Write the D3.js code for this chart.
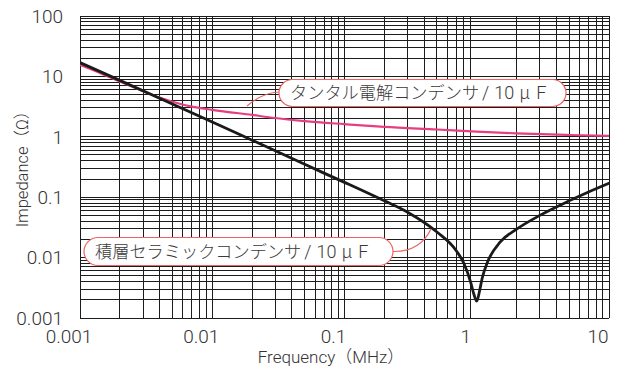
<!DOCTYPE html>
<html>
<head>
<meta charset="utf-8">
<script src="https://cdn.jsdelivr.net/npm/d3@7"></script>
<style>
  html, body { margin: 0; padding: 0; background: #fff; }
  svg { display: block; }
</style>
</head>
<body>
<div id="chart"></div>
<script>
// values (MHz, ohm)
const ceramicFreq = [0.001, 0.002, 0.004, 0.007, 0.01, 0.02, 0.05, 0.1, 0.2, 0.3, 0.5, 0.7, 0.8, 0.9, 0.95, 1.0, 1.05, 1.1, 1.2, 1.5, 2, 3, 5, 7, 10.5];
const ceramicZ    = [16.9, 8.6, 4.35, 2.5, 1.76, 0.88, 0.35, 0.176, 0.087, 0.0565, 0.0265, 0.013, 0.008, 0.0039, 0.0025, 0.0019, 0.0028, 0.0046, 0.0082, 0.018, 0.0295, 0.05, 0.087, 0.122, 0.178];

const tantalumFreq = [0.001, 0.0015, 0.002, 0.003, 0.004, 0.005, 0.007, 0.01, 0.02, 0.03, 0.05, 0.1, 0.2, 0.5, 1, 2, 5, 10.5];
const tantalumZ    = [15.5, 10.8, 8.2, 5.7, 4.45, 3.8, 3.15, 2.8, 2.3, 2.05, 1.82, 1.62, 1.46, 1.32, 1.22, 1.14, 1.07, 1.03];

const xTickValues = [0.001, 0.01, 0.1, 1, 10];
const xTickLabels = ['0.001', '0.01', '0.1', '1', '10'];
const yTickValues = [0.001, 0.01, 0.1, 1, 10, 100];
const yTickLabels = ['0.001', '0.01', '0.1', '1', '10', '100'];

const seriesNames = ['タンタル電解コンデンサ', '積層セラミックコンデンサ'];
const seriesUnit = ['/', '10', 'μ', 'F'];
const xTitle = 'Frequency（MHz）';
const yTitle = 'Impedance（Ω）';

const W = 618, H = 370;
const plot = { left: 80, right: 609, top: 16, bottom: 318 };

const svg = d3.select('#chart').append('svg')
  .attr('width', W).attr('height', H)
  .style('font-family', 'Roboto, "Noto Sans", sans-serif');

const x = d3.scaleLog().domain([0.001, 10]).range([plot.left, plot.right]);
const y = d3.scaleLog().domain([0.001, 100]).range([plot.bottom, plot.top]);

// log grid 1..9 per decade
const gridX = [], gridY = [];
for (let e = -3; e < 1; e++) for (let k = 1; k <= 9; k++) gridX.push(k * Math.pow(10, e));
gridX.push(10);
for (let e = -3; e < 2; e++) for (let k = 1; k <= 9; k++) gridY.push(k * Math.pow(10, e));
gridY.push(100);

// the 1 MHz line is not printed in the original
const gridXShown = gridX.filter(v => Math.abs(v - 1) > 1e-9);

const gGrid = svg.append('g')
  .attr('stroke', '#1c1c1c')
  .attr('stroke-width', 1)
  .attr('shape-rendering', 'crispEdges');

gGrid.selectAll('line.v').data(gridXShown).join('line')
  .attr('class', 'v')
  .attr('x1', d => x(d)).attr('x2', d => x(d))
  .attr('y1', plot.top).attr('y2', plot.bottom);

gGrid.selectAll('line.h').data(gridY).join('line')
  .attr('class', 'h')
  .attr('x1', plot.left).attr('x2', plot.right)
  .attr('y1', d => y(d)).attr('y2', d => y(d));

// tick labels
svg.append('g').selectAll('text').data(xTickValues).join('text')
  .attr('x', d => x(d) - 11)
  .attr('y', 343)
  .attr('text-anchor', 'middle')
  .attr('font-size', 19)
  .attr('font-weight', 300)
  .attr('fill', '#333')
  .text((d, i) => xTickLabels[i]);

svg.append('g').selectAll('text').data(yTickValues).join('text')
  .attr('x', 63)
  .attr('y', d => y(d))
  .attr('dy', '0.36em')
  .attr('text-anchor', 'end')
  .attr('font-size', 19)
  .attr('font-weight', 300)
  .attr('fill', '#333')
  .text((d, i) => yTickLabels[i]);

// axis titles
svg.append('text')
  .attr('x', 331).attr('y', 363)
  .attr('text-anchor', 'middle')
  .attr('font-size', 17)
  .attr('font-weight', 300)
  .attr('fill', '#333')
  .style('font-family', 'Roboto, "Noto Sans CJK JP", sans-serif')
  .text(xTitle);

svg.append('text')
  .attr('transform', 'translate(28,165) rotate(-90)')
  .attr('text-anchor', 'middle')
  .attr('font-size', 16.5)
  .attr('font-weight', 300)
  .attr('fill', '#333')
  .style('font-family', 'Roboto, "Noto Sans CJK JP", sans-serif')
  .text(yTitle);

// curves
const line = d3.line()
  .x(d => x(d[0]))
  .y(d => y(d[1]))
  .curve(d3.curveMonotoneX);

svg.append('clipPath').attr('id', 'plotClip')
  .append('rect')
  .attr('x', plot.left).attr('y', plot.top)
  .attr('width', plot.right - plot.left).attr('height', plot.bottom - plot.top);

const tantalum = tantalumFreq.map((f, i) => [f, tantalumZ[i]]);
const ceramic = ceramicFreq.map((f, i) => [f, ceramicZ[i]]);

const gCurves = svg.append('g').attr('clip-path', 'url(#plotClip)');

gCurves.append('path')
  .datum(tantalum)
  .attr('d', line)
  .attr('fill', 'none')
  .attr('stroke', '#e63e7e')
  .attr('stroke-width', 2.2);

gCurves.append('path')
  .datum(ceramic)
  .attr('d', line)
  .attr('fill', 'none')
  .attr('stroke', '#1a1a1a')
  .attr('stroke-width', 2.8)
  .attr('stroke-linejoin', 'round')
  .attr('stroke-linecap', 'round');

// callout bubbles
const bubbleStroke = '#ec6464';

function callout(box, leader, name) {
  const g = svg.append('g');
  g.append('path')
    .attr('d', leader)
    .attr('fill', 'none')
    .attr('stroke', bubbleStroke)
    .attr('stroke-width', 1.2);
  g.append('rect')
    .attr('x', box.x).attr('y', box.y)
    .attr('width', box.w).attr('height', box.h)
    .attr('rx', box.h / 2).attr('ry', box.h / 2)
    .attr('fill', '#fff')
    .attr('stroke', bubbleStroke)
    .attr('stroke-width', 1.2);
  const t = g.append('text')
    .attr('x', box.x + 11)
    .attr('y', box.y + box.h / 2)
    .attr('dy', '0.36em')
    .attr('font-size', 17.2)
    .attr('font-weight', 300)
    .attr('fill', '#3a3a3a')
    .style('font-family', '"Noto Sans CJK JP", sans-serif');
  t.append('tspan').text(name);
  // unit part is set wide in the original
  const gaps = [3, 5, 5, 6];
  seriesUnit.forEach((s, i) => {
    t.append('tspan').attr('dx', gaps[i])
      .style('font-family', s === 'μ' ? '"Noto Sans CJK JP"' : 'Roboto, sans-serif')
      .attr('font-size', 18)
      .text(s);
  });
}

callout({ x: 279, y: 79.5, w: 287, h: 27 },
  'M279,92 Q262,93 247,106', seriesNames[0]);

callout({ x: 84, y: 237.5, w: 309, h: 28 },
  'M393,251.5 Q420,252 431,229', seriesNames[1]);
</script>
</body>
</html>
